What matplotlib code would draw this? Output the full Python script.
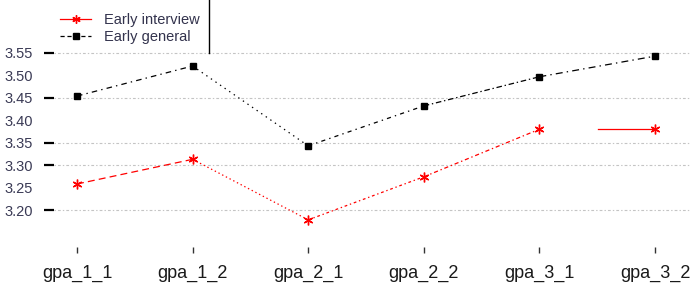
import matplotlib
matplotlib.use("Agg")
import matplotlib.pyplot as plt
from matplotlib.lines import Line2D
import numpy as np

plt.rcParams['font.family'] = ['Liberation Sans', 'DejaVu Sans']
plt.rcParams['lines.scale_dashes'] = False

categories = ["gpa_1_1", "gpa_1_2", "gpa_2_1", "gpa_2_2", "gpa_3_1", "gpa_3_2"]
early_interview = [3.258, 3.313, 3.178, 3.274, 3.380, 3.380]
early_general = [3.454, 3.521, 3.343, 3.432, 3.497, 3.543]
ytick_labels = [3.20, 3.25, 3.30, 3.35, 3.40, 3.45, 3.50, 3.55]
grid_levels = [3.20, 3.30, 3.35, 3.45, 3.55]

W, H = 698, 285
fig = plt.figure(figsize=(W / 100, H / 100), dpi=100)
left, right, bottom, top = 54, 690, 247, 0
ax = fig.add_axes([left / W, 1 - bottom / H, (right - left) / W, (bottom - top) / H])

x = np.arange(1, len(categories) + 1)

red_styles = [(0, (5, 3)), (0, (1, 2)), (0, (2, 2, 1, 2)), (0, (3, 2, 1, 2)), (41, (41, 42))]
black_styles = [(0, (4, 3, 1, 3)), (0, (1, 3)), (0, (3, 3, 1, 3)), (0, (4, 2, 1, 2)), (0, (5, 3, 1, 3))]

ax.yaxis.remove_overlapping_locs = False
ax.set_yticks(ytick_labels)
ax.set_yticklabels([f"{v:.2f}" for v in ytick_labels], fontsize=10.5, color='#3a3a55')
ax.tick_params(axis='y', which='major', length=0, pad=15)
ax.set_yticks(grid_levels, minor=True)
ax.tick_params(axis='y', which='minor', length=7, width=1.6, color='black', pad=15)
ax.grid(True, axis='y', which='minor', linestyle=(0, (1, 1.5, 2, 1.5)), color='#c4c4c4', lw=0.8)
ax.set_axisbelow(True)

for i in range(len(x) - 1):
    ax.plot(x[i:i + 2], early_general[i:i + 2], color='black', lw=0.9,
            linestyle=black_styles[i])
    ax.plot(x[i:i + 2], early_interview[i:i + 2], color='red', lw=0.9,
            linestyle=red_styles[i])
ax.plot(x, early_general, linestyle='none', marker='s', ms=5, color='black')
ax.plot(x, early_interview, linestyle='none', marker=(6, 2, 0), ms=7, mew=1.0, color='red')

ax.set_xlim(0.801, 6.303)
ax.set_ylim(3.20 - (247 - 210) / 448.6, 3.55 + 53 / 448.6)

for s in ax.spines.values():
    s.set_visible(False)

ax.set_xticks(x)
ax.set_xticklabels(categories, fontsize=13, color='#1a1a1a')
ax.tick_params(axis='x', length=4, width=1, color='#333333', pad=9)

handles = [
    Line2D([], [], color='red', lw=0.9, marker=(6, 2, 0), ms=6),
    Line2D([], [], color='black', lw=0.9, linestyle=(0, (3, 2)), marker='s', ms=4),
]
leg = fig.legend(handles, ["Early interview", "Early general"], loc='upper left',
                 bbox_to_anchor=(50 / W, 1 - 3 / H), frameon=False, fontsize=10.5,
                 handlelength=2.1, handletextpad=0.9, labelspacing=0.2,
                 borderpad=0.2, numpoints=1)
for t in leg.get_texts():
    t.set_color('#33334d')

fig.add_artist(Line2D([209 / W, 209 / W], [1, 1 - 53 / H], color='black', lw=1.0))

fig.savefig("out.png", dpi=100)
